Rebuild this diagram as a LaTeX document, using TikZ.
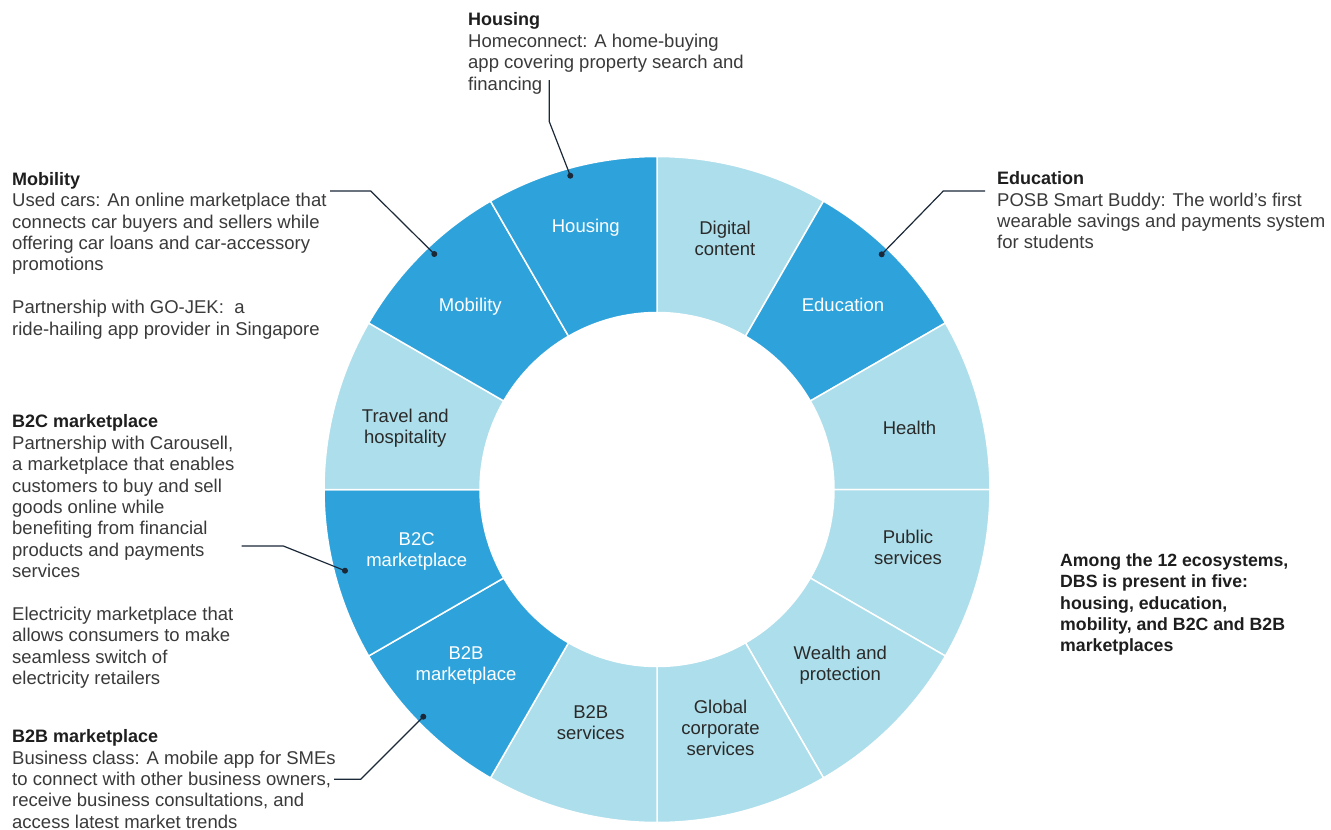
\documentclass[tikz,border=0pt]{standalone}
\usepackage{fontspec}
\setmainfont{Liberation Sans}
\definecolor{darkseg}{HTML}{2EA3DB}
\definecolor{lightseg}{HTML}{ADDEEB}
\definecolor{bodytxt}{HTML}{3A3A3A}
\definecolor{headtxt}{HTML}{1E1E1E}
\definecolor{leader}{HTML}{1B2838}
\definecolor{segtxt}{HTML}{2A2A2A}
\newcommand{\fstrut}{\rule{0pt}{14pt}}
\newcommand{\hd}[1]{{\bfseries\fontsize{18}{21.4}\selectfont\color{headtxt}#1}}
\begin{document}
\begin{tikzpicture}[x=1pt,y=-1pt,
  body/.style={anchor=north west, inner sep=0pt, align=left, text=bodytxt, font=\fontsize{18.5}{21.4}\selectfont},
  seglab/.style={anchor=north, inner sep=0pt, align=center, font=\fontsize{18.5}{21}\selectfont},
  onDark/.style={seglab, text=white},
  onLight/.style={seglab, text=segtxt},
  leaderline/.style={draw=leader, line width=1.2pt},
  dotnode/.style={circle, fill=leader, inner sep=0pt, minimum size=6pt},
  ]
\useasboundingbox (0,0) rectangle (1331,830);
\fill[white] (0,0) rectangle (1331,830);
% ring
\begin{scope}[shift={(657,489.5)}, yscale=-1]
 \foreach \a/\c in {90/lightseg, 60/darkseg, 30/lightseg, 0/lightseg, -30/lightseg, -60/lightseg, -90/lightseg, -120/darkseg, -150/darkseg, -180/lightseg, -210/darkseg, -240/darkseg} {
   \pgfmathsetmacro\b{\a-30}
   \filldraw[fill=\c, draw=white, line width=1.5pt, line join=miter] (\a:177) -- (\a:333) arc[start angle=\a, end angle=\b, radius=333] -- (\b:177) arc[start angle=\b, end angle=\a, radius=177] -- cycle;
 }
\end{scope}
% segment labels
\node[onLight] (sDigital) at (725,220.3) {\fstrut Digital\\content};
\node[onDark]  (sEducation) at (843,297) {\fstrut Education};
\node[onLight] (sHealth) at (909.5,420) {\fstrut Health};
\node[onLight] (sPublic) at (908,529.3) {\fstrut Public\\services};
\node[onLight] (sWealth) at (840.3,645.3) {\fstrut Wealth and\\protection};
\node[onLight] (sGlobal) at (720.5,699.3) {\fstrut Global\\corporate\\services};
\node[onLight] (sBtoBs) at (590.8,704.3) {\fstrut B2B\\services};
\node[onDark]  (sBtoBm) at (466,645) {\fstrut B2B\\marketplace};
\node[onDark]  (sBtoCm) at (416.7,531) {\fstrut B2C\\marketplace};
\node[onLight] (sTravel) at (405.3,408.3) {\fstrut Travel and\\hospitality};
\node[onDark]  (sMobility) at (470.3,297.7) {\fstrut Mobility};
\node[onDark]  (sHousing) at (585.8,218.3) {\fstrut Housing};
% text blocks
\node[body] (tHousing) at (468,11.7) {\fstrut\hd{Housing}\\Homeconnect: A home-buying\\app covering property search and\\financing};
\node[body] (tMobility) at (12,171) {\fstrut\hd{Mobility}\\Used cars: An online marketplace that\\connects car buyers and sellers while\\offering car loans and car-accessory\\promotions\\[21.4pt]Partnership with GO-JEK:~ a\\ride-hailing app provider in Singapore};
\node[body] (tEducation) at (997,170.5) {\fstrut\hd{Education}\\POSB Smart Buddy: The world’s first\\wearable savings and payments system\\for students};
\node[body] (tBtoC) at (12,413.7) {\fstrut\hd{B2C marketplace}\\Partnership with Carousell,\\a marketplace that enables\\customers to buy and sell\\goods online while\\benefiting from financial\\products and payments\\services\\[21.4pt]Electricity marketplace that\\allows consumers to make\\seamless switch of\\electricity retailers};
\node[body] (tBtoB) at (12,728.5) {\fstrut\hd{B2B marketplace}\\Business class: A mobile app for SMEs\\to connect with other business owners,\\receive business consultations, and\\access latest market trends};
\node[body, text=headtxt, font=\bfseries\fontsize{17.7}{21.4}\selectfont] (tAmong) at (1060,552) {\fstrut Among the 12 ecosystems,\\DBS is present in five:\\housing, education,\\mobility, and B2C and B2B\\marketplaces};
% leaders
\coordinate (hA) at (549.3,80);
\coordinate (hB) at (549.3,121.7);
\node[dotnode] (hD) at (570.3,175.7) {};
\coordinate (mA) at (330,191);
\coordinate (mB) at (370.7,191);
\node[dotnode] (mD) at (434.3,254) {};
\coordinate (eA) at (985,191);
\coordinate (eB) at (943.3,191);
\node[dotnode] (eD) at (881.7,254.3) {};
\coordinate (cA) at (241.7,546);
\coordinate (cB) at (283.3,546);
\node[dotnode] (cD) at (345,570.7) {};
\coordinate (bA) at (334,779.3);
\coordinate (bB) at (360.7,779.3);
\node[dotnode] (bD) at (423.3,716.7) {};
\draw[leaderline] (hA) -- (hB) -- (hD.center);
\draw[leaderline] (mA) -- (mB) -- (mD.center);
\draw[leaderline] (eA) -- (eB) -- (eD.center);
\draw[leaderline] (cA) -- (cB) -- (cD.center);
\draw[leaderline] (bA) -- (bB) -- (bD.center);
\end{tikzpicture}
\end{document}
